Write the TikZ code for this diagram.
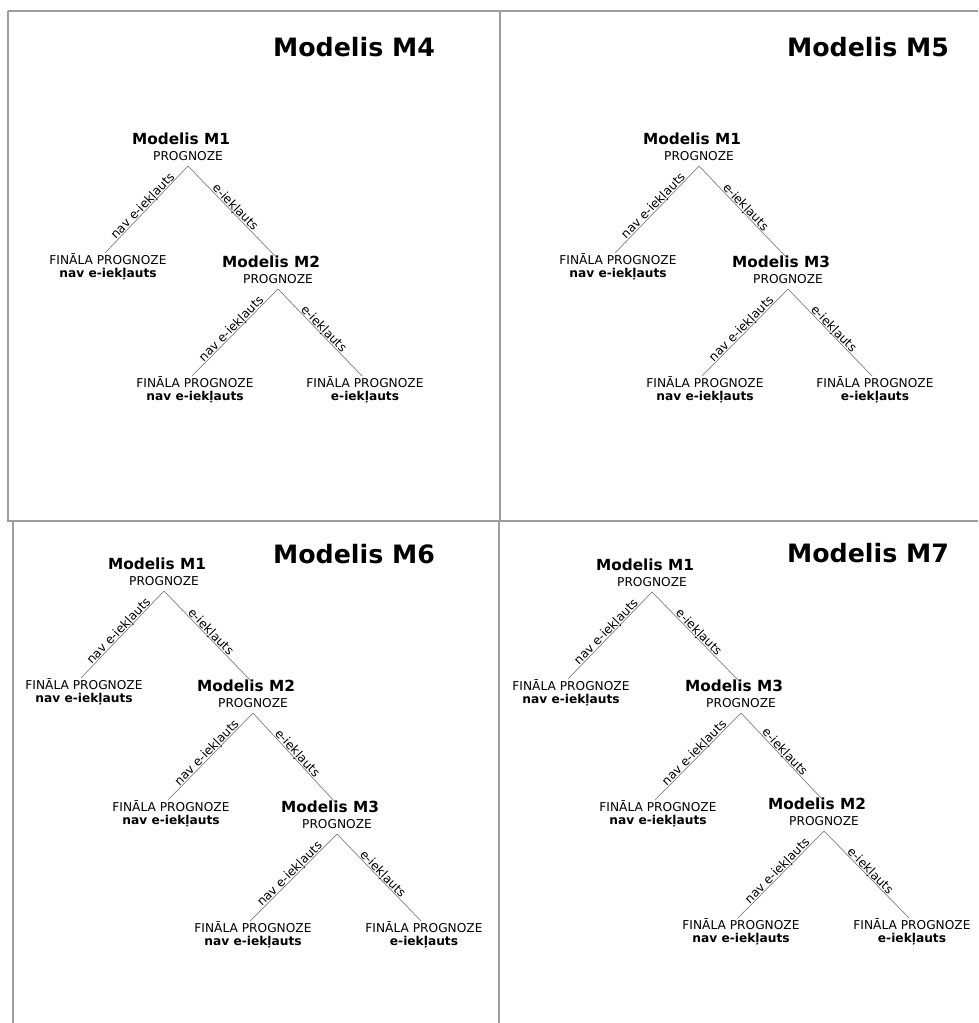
\documentclass[tikz,border=0pt]{standalone}
\usepackage{fontspec}
\setmainfont{DejaVu Sans}

\newcommand{\mname}[1]{{\fontsize{15.3}{15.5}\selectfont\bfseries Modelis #1}\hspace*{14pt}}

\tikzstyle{frame} = [draw=black!38, line width=2.2pt]
\tikzstyle{model} = [anchor=south, align=center, inner sep=0pt, text depth=5.5pt, font=\fontsize{12.2}{15.5}\selectfont]
\tikzstyle{final} = [anchor=north, align=center, inner sep=0pt, font=\fontsize{12.2}{13}\selectfont]
\tikzstyle{title} = [inner sep=0pt, font=\fontsize{25.3}{30}\selectfont\bfseries]
\tikzstyle{link} = [draw=black!50, line width=0.7pt]
\tikzstyle{weight} = [font=\fontsize{12.2}{13}\selectfont, sloped, anchor=south, text depth=0pt, inner sep=1pt]

\begin{document}
\begin{tikzpicture}[x=1pt, y=-1pt]
\useasboundingbox (0,0) rectangle (978,1023);
\draw[frame] (8,11) -- (978,11) (8,11) -- (8,521) -- (978,521) (500,11) -- (500,521)
  (13,521) -- (13,1023) (499,521) -- (499,1023);

\foreach \pos/\name in {{(354,47)/M4}, {(868,47)/M5}, {(354,554)/M6}, {(868,553)/M7}}
\node[title] (t\name) at \pos {Modelis \name};

\foreach \pos/\name/\lbl in {{(188,166)/p4m1/M1}, {(278,289)/p4m2/M2},
  {(699,166)/p5m1/M1}, {(788,289)/p5m3/M3},
  {(164,591)/p6m1/M1}, {(253,713)/p6m2/M2}, {(337,834)/p6m3/M3},
  {(652,592)/p7m1/M1}, {(741,713)/p7m3/M3}, {(824,831)/p7m2/M2}}
\node[model] (\name) at \pos {\mname{\lbl}\\PROGNOZE};

\foreach \pos/\name/\lbl in {{(108,253)/p4f1/nav e-iekļauts}, {(195,376)/p4f2/nav e-iekļauts}, {(365,376)/p4f3/e-iekļauts},
  {(618,253)/p5f1/nav e-iekļauts}, {(705,376)/p5f2/nav e-iekļauts}, {(875,376)/p5f3/e-iekļauts},
  {(84,678)/p6f1/nav e-iekļauts}, {(171,800)/p6f2/nav e-iekļauts}, {(253,921)/p6f3/nav e-iekļauts}, {(424,921)/p6f4/e-iekļauts},
  {(571,679)/p7f1/nav e-iekļauts}, {(658,800)/p7f2/nav e-iekļauts}, {(741,918)/p7f3/nav e-iekļauts}, {(912,918)/p7f4/e-iekļauts}}
\node[final] (\name) at \pos {FINĀLA PROGNOZE\\\textbf{\lbl}};

\foreach \source/\dest/\weight in {p4m1/p4f1/nav e-iekļauts, p4m1/p4m2/e-iekļauts, p4m2/p4f2/nav e-iekļauts, p4m2/p4f3/e-iekļauts,
  p5m1/p5f1/nav e-iekļauts, p5m1/p5m3/e-iekļauts, p5m3/p5f2/nav e-iekļauts, p5m3/p5f3/e-iekļauts,
  p6m1/p6f1/nav e-iekļauts, p6m1/p6m2/e-iekļauts, p6m2/p6f2/nav e-iekļauts, p6m2/p6m3/e-iekļauts,
  p6m3/p6f3/nav e-iekļauts, p6m3/p6f4/e-iekļauts,
  p7m1/p7f1/nav e-iekļauts, p7m1/p7m3/e-iekļauts, p7m3/p7f2/nav e-iekļauts, p7m3/p7m2/e-iekļauts,
  p7m2/p7f3/nav e-iekļauts, p7m2/p7f4/e-iekļauts}
\draw[link] (\source.south) -- node[weight] {\weight} ([xshift=-3pt]\dest.north);
\end{tikzpicture}
\end{document}
